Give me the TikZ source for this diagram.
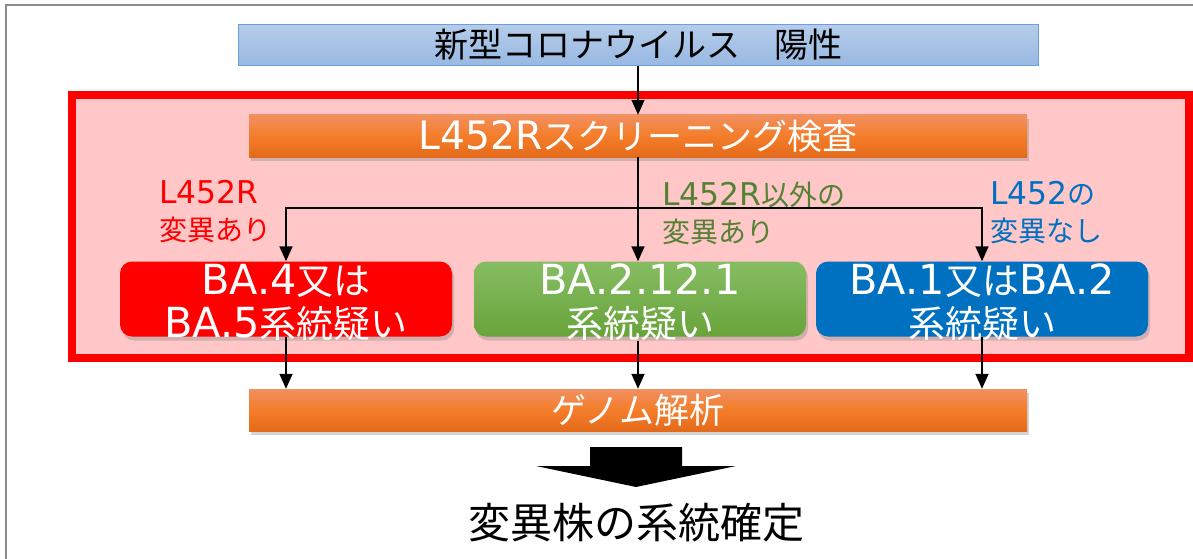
\documentclass[tikz,border=0pt]{standalone}
\usepackage{fontspec}
\setmainfont{Noto Sans CJK JP}
\newfontfamily\lat[Scale=1.12]{DejaVu Sans}
\usetikzlibrary{positioning,arrows.meta,shadows}
\definecolor{posTop}{HTML}{B5CCEA}
\definecolor{posBot}{HTML}{98B9E2}
\definecolor{posLine}{HTML}{6A9FD8}
\definecolor{barTop}{HTML}{F19060}
\definecolor{barMid}{HTML}{F47D2A}
\definecolor{barBot}{HTML}{E36A1A}
\definecolor{zoneFill}{HTML}{FFC7C7}
\definecolor{greenTop}{HTML}{86BD63}
\definecolor{greenBot}{HTML}{68A33A}
\definecolor{blueBox}{HTML}{0070C0}
\definecolor{greenText}{HTML}{548235}
\definecolor{frameGray}{HTML}{8C8C8C}

\begin{document}
\begin{tikzpicture}[x=1pt,y=-1pt,
			bar/.style={rectangle,inner sep=0pt,minimum width=778pt,minimum height=42pt,
				top color=barTop,bottom color=barBot,middle color=barMid,text=white,
				font=\fontsize{35}{40}\selectfont,
				drop shadow={opacity=.35,shadow xshift=2pt,shadow yshift=-4pt}},
			lineage/.style={rectangle,rounded corners=12pt,minimum width=332pt,minimum height=75pt,inner sep=0pt,
				drop shadow={opacity=.35,shadow xshift=2pt,shadow yshift=-4pt}},
			lineagetext/.style={text=white,align=center,inner sep=0pt,font=\fontsize{37}{43}\selectfont,yshift=-3pt},
			result/.style={align=left,anchor=west,inner sep=0pt,font=\fontsize{28}{37}\selectfont},
			flow/.style={line width=1.6pt,-{Triangle[width=13pt,length=15pt]}}]
			\useasboundingbox (0,0) rectangle (1193,559);
			\draw[frameGray,line width=2pt] (5.5,560) -- (5.5,5) -- (1194,5);
			% screening zone
			\draw[red,line width=8.5pt,fill=zoneFill] (72,95) rectangle (1189,358);

			\node (pos) [rectangle,inner sep=0pt,minimum width=800pt,minimum height=41pt,
				top color=posTop,bottom color=posBot,draw=posLine,line width=1pt,
				font=\fontsize{34}{40}\selectfont] at (638,45) {新型コロナウイルス　陽性};
			\node (screen) [bar] at (638,136) {{\lat L452R}スクリーニング検査};
			\coordinate (split) at (638,208);

			\node (ba45) [lineage,fill=red] at (286,299) {};
			\node (ba2121) [lineage,top color=greenTop,bottom color=greenBot] at (640,299) {};
			\node (ba12) [lineage,fill=blueBox] at (982,299) {};
			\node (ba45txt) [lineagetext] at (ba45) {{\lat BA.4}又は\\{\lat BA.5}系統疑い};
			\node (ba2121txt) [lineagetext] at (ba2121) {{\lat BA.2.12.1}\\系統疑い};
			\node (ba12txt) [lineagetext] at (ba12) {{\lat BA.1}又は{\lat BA.2}\\系統疑い};

			\node (l452r) [result,text=red] at (159,212) {{\lat L452R}\\変異あり};
			\node (other) [result,text=greenText] at (662,213) {{\lat L452R}以外の\\変異あり};
			\node (none) [result,text=blueBox] at (990,213) {{\lat L452}の\\変異なし};

			\node (genome) [bar] at (638,410) {ゲノム解析};
			\node (lineage) [font=\fontsize{42}{46}\selectfont] at (636,523) {変異株の系統確定};

			\draw[flow] (pos) -- (screen);
			\draw[flow] (screen) -- (screen |- ba2121.north);
			\draw[flow] (split) -| (ba45.north);
			\draw[flow] (split) -| (ba12.north);
			\draw[flow] (ba45) -- (ba45 |- genome.north);
			\draw[flow] (ba2121txt.south -| screen) -- (screen |- genome.north);
			\draw[flow] (ba12) -- (ba12 |- genome.north);
			% big arrow
			\fill (590,447) -- (682,447) -- (682,466) -- (736,466) -- (636,487) -- (536,466) -- (590,466) -- cycle;
		\end{tikzpicture}
\end{document}
